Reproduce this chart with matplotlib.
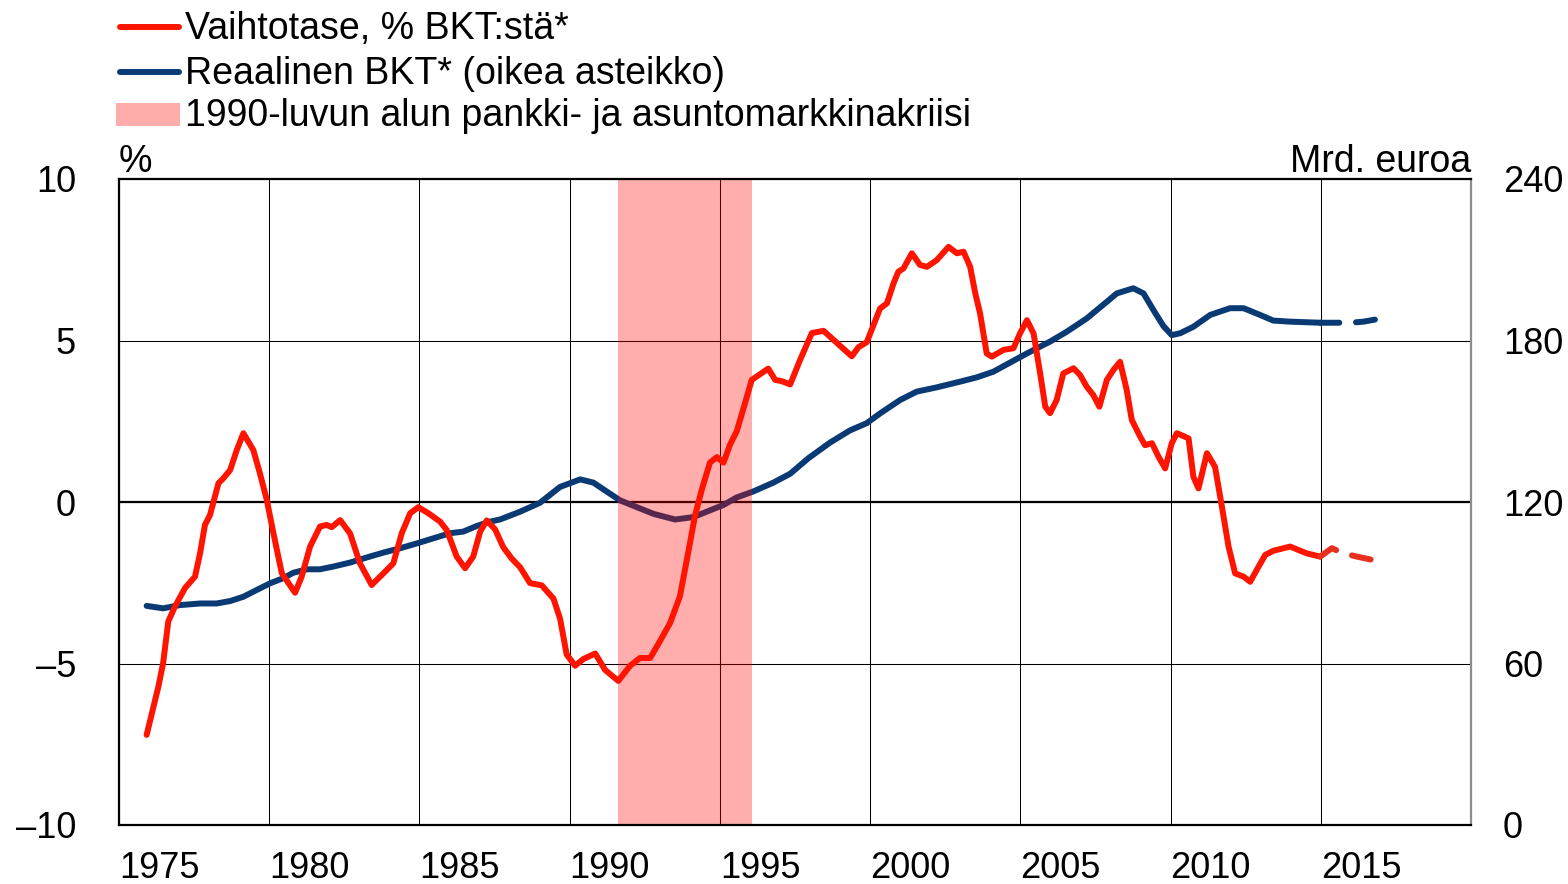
import matplotlib
matplotlib.use('Agg')
import matplotlib.pyplot as plt
from matplotlib.lines import Line2D
from matplotlib.patches import Rectangle

plt.rcParams['font.family'] = ['Liberation Sans', 'DejaVu Sans']

# ── colours ────────────────────────────────────────────────────────────────
RED    = '#FF1400'
RED_D  = '#E8301F'
NAVY   = '#0A3A74'
BAND   = '#FF0000'
BAND_L = '#FFADAA'

# ── data ──────────────────────────────────────────────────────────────────
# current account, % of GDP (left axis)
ca_year = [1975.92, 1976.31, 1976.47, 1976.64, 1976.86, 1977.20, 1977.53, 1977.70,
           1977.86, 1978.03, 1978.31, 1978.47, 1978.70, 1978.92, 1979.14, 1979.47,
           1979.69, 1979.92, 1980.14, 1980.42, 1980.86, 1981.08, 1981.36, 1981.69,
           1981.91, 1982.08, 1982.36, 1982.69, 1983.02, 1983.41, 1983.80, 1984.13,
           1984.41, 1984.69, 1984.96, 1985.30, 1985.69, 1985.91, 1986.24, 1986.52,
           1986.79, 1987.02, 1987.24, 1987.52, 1987.79, 1988.07, 1988.35, 1988.68,
           1989.07, 1989.46, 1989.68, 1989.90, 1990.18, 1990.46, 1990.85, 1991.18,
           1991.62, 1992.01, 1992.34, 1992.68, 1993.01, 1993.34, 1993.67, 1993.95,
           1994.17, 1994.40, 1994.67, 1994.90, 1995.12, 1995.34, 1995.56, 1995.78,
           1996.06, 1996.28, 1996.61, 1996.84, 1997.06, 1997.34, 1997.67, 1998.06,
           1998.45, 1998.94, 1999.39, 1999.61, 1999.89, 2000.33, 2000.56, 2000.78,
           2000.94, 2001.11, 2001.39, 2001.66, 2001.89, 2002.22, 2002.61, 2002.89,
           2003.11, 2003.33, 2003.50, 2003.66, 2003.88, 2004.05, 2004.44, 2004.77,
           2004.99, 2005.22, 2005.44, 2005.66, 2005.83, 2005.99, 2006.21, 2006.43,
           2006.77, 2006.99, 2007.21, 2007.43, 2007.63, 2007.88, 2008.10, 2008.32,
           2008.54, 2008.71, 2008.99, 2009.15, 2009.38, 2009.60, 2009.82, 2010.04,
           2010.21, 2010.60, 2010.76, 2010.93, 2011.21, 2011.48, 2011.71, 2011.93,
           2012.15, 2012.43, 2012.65, 2012.87, 2013.15, 2013.42, 2013.98, 2014.53,
           2014.98]
ca_val = [-7.21, -5.72, -4.98, -3.70, -3.24, -2.66, -2.31, -1.58,
          -0.71, -0.40, 0.58, 0.73, 0.99, 1.61, 2.13, 1.61,
          0.89, 0.06, -0.97, -2.21, -2.81, -2.31, -1.38, -0.76,
          -0.71, -0.78, -0.56, -0.97, -1.90, -2.57, -2.21, -1.90,
          -0.97, -0.35, -0.16, -0.35, -0.61, -0.87, -1.69, -2.05,
          -1.69, -0.92, -0.57, -0.85, -1.40, -1.75, -2.02, -2.51,
          -2.58, -2.99, -3.61, -4.72, -5.07, -4.86, -4.69, -5.20,
          -5.54, -5.07, -4.83, -4.83, -4.30, -3.75, -2.92, -1.54,
          -0.43, 0.39, 1.22, 1.39, 1.22, 1.78, 2.19, 2.88,
          3.78, 3.92, 4.13, 3.78, 3.74, 3.64, 4.40, 5.23,
          5.30, 4.89, 4.51, 4.79, 4.95, 5.99, 6.15, 6.77,
          7.13, 7.23, 7.70, 7.34, 7.28, 7.49, 7.90, 7.70,
          7.75, 7.28, 6.46, 5.84, 4.60, 4.50, 4.71, 4.76,
          5.22, 5.63, 5.22, 3.98, 2.95, 2.75, 3.16, 3.98,
          4.14, 3.93, 3.57, 3.31, 2.95, 3.78, 4.09, 4.34,
          3.47, 2.54, 2.02, 1.76, 1.82, 1.40, 1.04, 1.82,
          2.13, 1.97, 0.78, 0.42, 1.51, 1.09, -0.15, -1.38,
          -2.21, -2.31, -2.47, -2.10, -1.64, -1.51, -1.38, -1.59,
          -1.69]
ca_fc_year = [2014.98, 2015.37, 2015.75, 2016.20, 2016.76]
ca_fc_val = [-1.69, -1.43, -1.59, -1.69, -1.80]

# real GDP, bn euro (right axis)
gdp_year = [1975.92, 1976.47, 1977.03, 1977.70, 1978.25, 1978.70, 1979.14, 1979.58,
            1980.03, 1980.47, 1980.80, 1981.25, 1981.69, 1982.13, 1982.69, 1983.25,
            1983.80, 1984.35, 1984.91, 1985.46, 1986.02, 1986.46, 1986.91, 1987.35,
            1987.68, 1988.35, 1989.01, 1989.68, 1990.35, 1990.79, 1991.23, 1991.68,
            1992.23, 1992.79, 1993.51, 1994.12, 1994.56, 1995.12, 1995.56, 1996.11,
            1996.78, 1997.34, 1997.95, 1998.67, 1999.33, 1999.89, 2000.33, 2001.00,
            2001.55, 2002.22, 2002.99, 2003.55, 2004.10, 2004.66, 2005.22, 2005.99,
            2006.55, 2007.21, 2007.88, 2008.21, 2008.76, 2009.10, 2009.43, 2009.76,
            2010.04, 2010.32, 2010.76, 2011.32, 2011.98, 2012.43, 2012.98, 2013.42,
            2013.98, 2014.98]
gdp_val = [81.4, 80.5, 81.7, 82.3, 82.3, 83.2, 84.8, 87.3,
           89.8, 91.7, 93.7, 95.0, 95.0, 96.0, 97.5, 99.4,
           101.2, 102.8, 104.6, 106.5, 108.4, 109.0, 111.1, 112.7,
           113.5, 116.4, 119.7, 125.6, 128.4, 127.2, 123.9, 120.6,
           118.1, 115.6, 113.5, 114.4, 116.4, 118.9, 121.7, 123.9,
           127.2, 130.5, 136.3, 142.1, 146.6, 149.3, 152.9, 157.9,
           161.0, 162.6, 164.7, 166.3, 168.4, 171.8, 175.2, 179.6,
           183.3, 188.2, 194.4, 197.5, 199.4, 197.5, 191.3, 185.4,
           182.0, 182.7, 185.1, 189.5, 192.0, 192.0, 189.5, 187.4,
           187.0, 186.6]
gdp_fc_year = [2014.98, 2015.53, 2015.98, 2016.42, 2016.92]
gdp_fc_val = [186.6, 186.6, 186.6, 187.0, 188.0]

crisis = (1991.61, 1996.07)

x_ticks = [1975, 1980, 1985, 1990, 1995, 2000, 2005, 2010, 2015]
left_ticks = [-10, -5, 0, 5, 10]
right_ticks = [0, 60, 120, 180, 240]

legend_labels = ['Vaihtotase, % BKT:stä*',
                 'Reaalinen BKT* (oikea asteikko)',
                 '1990-luvun alun pankki- ja asuntomarkkinakriisi']

# ── figure ─────────────────────────────────────────────────────────────────
W, H = 1568, 884
fig = plt.figure(figsize=(W / 100, H / 100), dpi=100)
ax_r = fig.add_axes([119 / W, 1 - 825 / H, (1471 - 119) / W, (825 - 179) / H])
ax_l = ax_r.twinx()

FS = 26
FS_LEG = 27
LW = 4.3

# right scale (primary, bottom layer): grid + GDP
ax_r.set_xlim(1975, 2020)
ax_r.set_ylim(0, 240)
ax_r.set_yticks(right_ticks)
ax_r.set_xticks(x_ticks)
ax_r.grid(True, color='black', linewidth=0.75)
ax_r.axhline(120, color='black', linewidth=1.6, zorder=1.5)
ax_r.plot(gdp_year, gdp_val, color=NAVY, lw=LW, solid_capstyle='round',
          solid_joinstyle='round', zorder=3)
ax_r.plot(gdp_fc_year, gdp_fc_val, color=NAVY, lw=LW, ls=(0, (3.2, 2.8)),
          dash_capstyle='round', zorder=3)
ax_r.yaxis.tick_right()
ax_r.tick_params(axis='y', length=0, pad=23, labelsize=FS)
ax_r.tick_params(axis='x', length=0, pad=19, labelsize=FS)
for lab in ax_r.get_xticklabels():
    lab.set_horizontalalignment('left')
for s in ax_r.spines.values():
    s.set_visible(False)

# left scale (top layer): crisis band + current account
ax_l.set_ylim(-10, 10)
ax_l.set_yticks(left_ticks)
ax_l.set_yticklabels([f'{v}'.replace('-', '\u2013') for v in left_ticks])
ax_l.yaxis.tick_left()
ax_l.tick_params(axis='y', length=0, pad=31, labelsize=FS)
ax_l.axvspan(*crisis, color=BAND, alpha=0.32, lw=0, zorder=1)
ax_l.plot(ca_year, ca_val, color=RED, lw=LW, solid_capstyle='round',
          solid_joinstyle='round', zorder=3)
ax_l.plot(ca_fc_year, ca_fc_val, color=RED_D, lw=LW, ls=(0, (3.2, 2.8)),
          dash_capstyle='round', zorder=3)
for side in ('top', 'left', 'bottom'):
    ax_l.spines[side].set_color('black')
    ax_l.spines[side].set_linewidth(1.6)
ax_l.spines['right'].set_color('#8c8c8c')
ax_l.spines['right'].set_linewidth(1.6)

# axis unit labels
fig.text(119 / W, 1 - 172 / H, '%', fontsize=FS_LEG, ha='left', va='baseline')
fig.text(1471 / W, 1 - 172 / H, 'Mrd. euroa', fontsize=FS_LEG, ha='right', va='baseline')

# ── legend drawn by hand at the top ────────────────────────────────────────
fig.add_artist(Line2D([120 / W, 179 / W], [1 - 27 / H] * 2, color=RED, lw=LW,
                      solid_capstyle='round'))
fig.add_artist(Line2D([120 / W, 179 / W], [1 - 72 / H] * 2, color=NAVY, lw=LW,
                      solid_capstyle='round'))
fig.add_artist(Rectangle((116 / W, 1 - 126 / H), 64 / W, 23 / H,
                         transform=fig.transFigure, facecolor=BAND_L, lw=0))
for lab, base in zip(legend_labels, [39, 84, 126]):
    fig.text(185 / W, 1 - base / H, lab, fontsize=FS_LEG, ha='left', va='baseline')

fig.savefig('out.png', dpi=100)
